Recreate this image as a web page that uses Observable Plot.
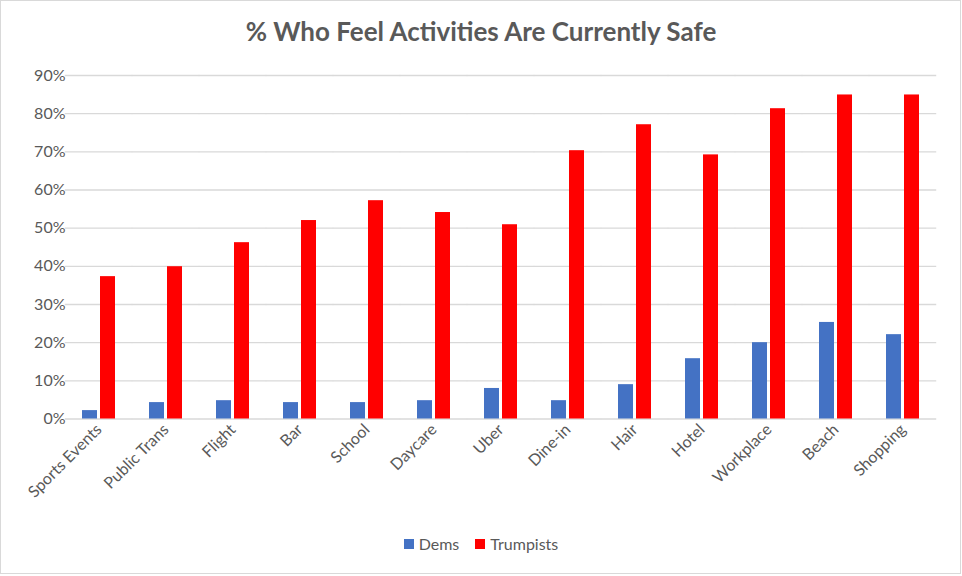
<!DOCTYPE html>
<html>
<head>
<meta charset="utf-8">
<script src="https://cdn.jsdelivr.net/npm/d3@7"></script>
<script src="https://cdn.jsdelivr.net/npm/@observablehq/plot@0.6"></script>
<style>
  html, body { margin: 0; padding: 0; background: #fff; }
  #wrap { position: relative; width: 962px; height: 576px; overflow: hidden; font-family: Lato, "Open Sans", sans-serif; }
  #frame { position: absolute; left: 0; top: 0; width: 959px; height: 572px; border: 1.5px solid #d9d9d9; pointer-events: none; }
  #title { position: absolute; left: 0; width: 962px; top: 15px; text-align: center; font-weight: bold; font-size: 26px; color: #595959; }
  #chart { position: absolute; left: 0; top: 0; }
  #legend { position: absolute; left: 0; width: 962px; top: 534px; display: flex; justify-content: center; align-items: center; font-size: 16px; color: #595959; }
  .item { display: flex; align-items: center; margin: 0 8px; }
  .sw { width: 10px; height: 10px; margin-right: 5px; }
</style>
</head>
<body>
<div id="wrap">
  <div id="chart"></div>
  <div id="title">% Who Feel Activities Are Currently Safe</div>
  <div id="legend"></div>
  <div id="frame"></div>
</div>
<script>
const categories = ["Sports Events", "Public Trans", "Flight", "Bar", "School", "Daycare", "Uber", "Dine-in", "Hair", "Hotel", "Workplace", "Beach", "Shopping"];
const dems = [2.2, 4.3, 4.8, 4.3, 4.3, 4.8, 8.0, 4.8, 9.0, 15.8, 20.0, 25.3, 22.1];
const trumpists = [37.3, 39.9, 46.2, 52.0, 57.2, 54.1, 50.9, 70.3, 77.1, 69.2, 81.3, 84.9, 84.9];
const series = ["Dems", "Trumpists"];
const colors = ["#4472C4", "#FF0000"];
const yTicks = [0, 10, 20, 30, 40, 50, 60, 70, 80, 90];

const data = [];
categories.forEach((c, i) => {
  data.push({category: c, series: series[0], value: dems[i]});
  data.push({category: c, series: series[1], value: trumpists[i]});
});

const W = 962, mL = 61, mR = 23;
const fxPad = 0.51;
const step = (W - mL - mR) / categories.length;
const gridExtend = -step * fxPad / 2; // stretch each facet's gridline across the gap between groups

const chart = Plot.plot({
  width: W,
  height: 576,
  marginTop: 75,
  marginBottom: 157.5,
  marginLeft: mL,
  marginRight: mR,
  style: {fontFamily: "Lato, 'Open Sans', sans-serif", fontSize: "16px", color: "#595959", background: "transparent", overflow: "visible"},
  fx: {domain: categories, paddingInner: fxPad, paddingOuter: fxPad / 2, label: null, tickSize: 0, tickRotate: -45, tickPadding: 8},
  x: {domain: series, paddingInner: 0.17, paddingOuter: 0, axis: null},
  y: {domain: [0, 90], ticks: yTicks, tickFormat: d => d + "%", label: null, tickSize: 0, tickPadding: 17},
  color: {domain: series, range: colors},
  marks: [
    Plot.ruleY(yTicks, {stroke: "#d9d9d9", strokeWidth: 1.3, insetLeft: gridExtend, insetRight: gridExtend}),
    Plot.barY(data, {fx: "category", x: "series", y: "value", fill: "series"})
  ]
});
document.getElementById("chart").appendChild(chart);

const legend = document.getElementById("legend");
series.forEach((s, i) => {
  const item = document.createElement("div");
  item.className = "item";
  const sw = document.createElement("div");
  sw.className = "sw";
  sw.style.background = colors[i];
  const t = document.createElement("span");
  t.textContent = s;
  item.appendChild(sw);
  item.appendChild(t);
  legend.appendChild(item);
});
</script>
</body>
</html>
